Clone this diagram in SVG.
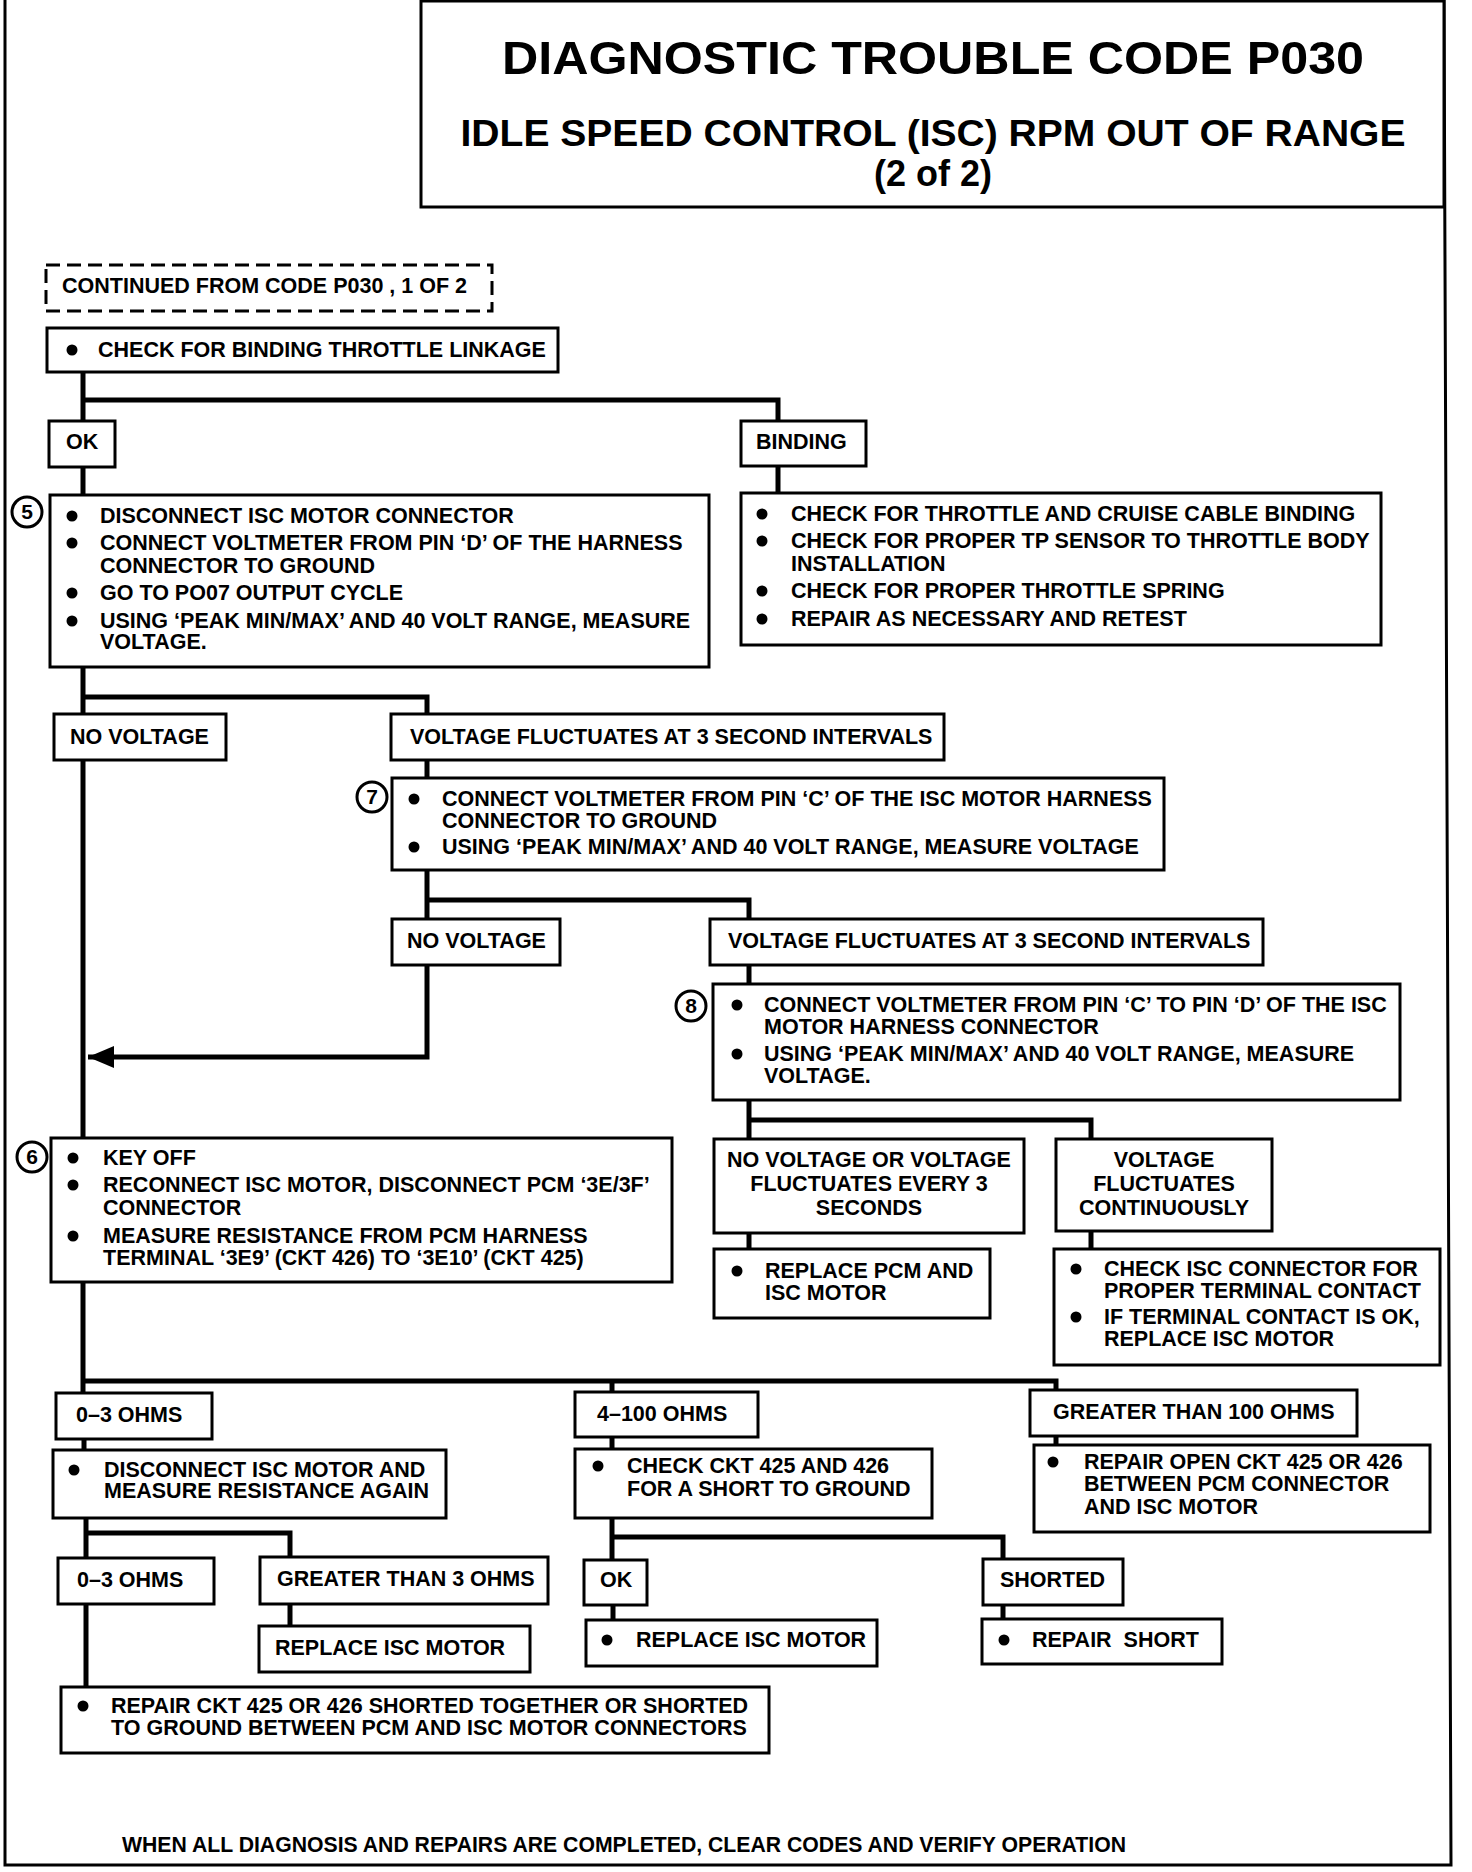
<svg xmlns="http://www.w3.org/2000/svg" width="1472" height="1872" viewBox="0 0 1472 1872">
<defs>
<style>
.b{fill:#fff;stroke:#000;stroke-width:3}
.d{fill:#fff;stroke:#000;stroke-width:3;stroke-dasharray:14 7}
.c{fill:none;stroke:#000;stroke-width:5}
.f{fill:none;stroke:#000;stroke-width:3}
text{font-family:"Liberation Sans",Arial,sans-serif;font-size:21.5px;font-weight:bold;fill:#000;white-space:pre}
.tt{text-anchor:middle}
.m{text-anchor:middle}
.n{text-anchor:middle;font-size:21px}
.dot{fill:#000}
.ring{fill:#fff;stroke:#000;stroke-width:3}
</style>
<marker id="ah" markerUnits="userSpaceOnUse" markerWidth="30" markerHeight="24" refX="26" refY="11" orient="auto">
<path d="M0,0 L26,11 L0,22 Z" fill="#000"/>
</marker>
</defs>
<rect width="1472" height="1872" fill="#fff"/>

<g id="frame">
<path class="f" d="M5,0 V1865 H1451 L1444,0"/>
</g>

<g id="title">
<rect class="b" x="421" y="1" width="1023" height="206" stroke-width="4"/>
<text class="tt" x="933" y="74" textLength="862" lengthAdjust="spacingAndGlyphs" style="font-size:46px">DIAGNOSTIC TROUBLE CODE P030</text>
<text class="tt" x="933" y="146" textLength="945" lengthAdjust="spacingAndGlyphs" style="font-size:36px">IDLE SPEED CONTROL (ISC) RPM OUT OF RANGE</text>
<text class="tt" x="933" y="186" style="font-size:36px">(2 of 2)</text>
</g>

<g id="connectors">
<path class="c" d="M83,372 V421 M83,467 V495 M83,667 V714 M83,760 V1138 M83,1282 V1393 M84,1439 V1450 M86,1518 V1558 M86,1604 V1687"/>
<path class="c" d="M83,400 H778 V421 M778,466 V493"/>
<path class="c" d="M83,697 H427 V714 M427,760 V778 M427,870 V919 M427,900 H749 V919 M749,965 V984"/>
<path class="c" d="M427,965 V1057 H88" marker-end="url(#ah)"/>
<path class="c" d="M749,1100 V1139 M749,1120 H1091 V1139 M749,1233 V1249 M1091,1231 V1249"/>
<path class="c" d="M83,1381 H1056 V1390 M612,1381 V1392 M612,1437 V1449 M1056,1436 V1445"/>
<path class="c" d="M86,1533 H290 V1557 M290,1604 V1626"/>
<path class="c" d="M612,1518 V1560 M612,1537 H1003 V1559 M613,1605 V1620 M1003,1605 V1619"/>
</g>

<g id="n-continued">
<rect class="d" x="46" y="265" width="446" height="46"/>
<text x="62" y="293">CONTINUED FROM CODE P030 , 1 OF 2</text>
</g>

<g id="n-check-binding">
<rect class="b" x="47" y="328" width="511" height="44"/>
<circle class="dot" cx="72" cy="350" r="5.5"/>
<text x="98" y="357">CHECK FOR BINDING THROTTLE LINKAGE</text>
</g>

<g id="n-ok1">
<rect class="b" x="49" y="421" width="66" height="46"/>
<text x="66" y="449">OK</text>
</g>

<g id="n-binding">
<rect class="b" x="741" y="421" width="125" height="45"/>
<text x="756" y="449">BINDING</text>
</g>

<g id="n-step5">
<rect class="b" x="50" y="495" width="659" height="172"/>
<circle class="ring" cx="27" cy="512" r="15"/>
<text class="n" x="27" y="519">5</text>
<circle class="dot" cx="72" cy="516" r="5.5"/>
<circle class="dot" cx="72" cy="543" r="5.5"/>
<circle class="dot" cx="72" cy="593" r="5.5"/>
<circle class="dot" cx="72" cy="621" r="5.5"/>
<text x="100" y="523">DISCONNECT ISC MOTOR CONNECTOR</text>
<text x="100" y="550">CONNECT VOLTMETER FROM PIN ‘D’ OF THE HARNESS</text>
<text x="100" y="573">CONNECTOR TO GROUND</text>
<text x="100" y="600">GO TO PO07 OUTPUT CYCLE</text>
<text x="100" y="628">USING ‘PEAK MIN/MAX’ AND 40 VOLT RANGE, MEASURE</text>
<text x="100" y="649">VOLTAGE.</text>
</g>

<g id="n-binding-checks">
<rect class="b" x="741" y="493" width="640" height="152"/>
<circle class="dot" cx="762" cy="514" r="5.5"/>
<circle class="dot" cx="762" cy="541" r="5.5"/>
<circle class="dot" cx="762" cy="591" r="5.5"/>
<circle class="dot" cx="762" cy="619" r="5.5"/>
<text x="791" y="521">CHECK FOR THROTTLE AND CRUISE CABLE BINDING</text>
<text x="791" y="548">CHECK FOR PROPER TP SENSOR TO THROTTLE BODY</text>
<text x="791" y="571">INSTALLATION</text>
<text x="791" y="598">CHECK FOR PROPER THROTTLE SPRING</text>
<text x="791" y="626">REPAIR AS NECESSARY AND RETEST</text>
</g>

<g id="n-novolt1">
<rect class="b" x="54" y="714" width="172" height="46"/>
<text x="70" y="744">NO VOLTAGE</text>
</g>

<g id="n-fluct1">
<rect class="b" x="391" y="714" width="553" height="46"/>
<text x="410" y="744">VOLTAGE FLUCTUATES AT 3 SECOND INTERVALS</text>
</g>

<g id="n-step7">
<rect class="b" x="392" y="778" width="772" height="92"/>
<circle class="ring" cx="372" cy="797" r="15"/>
<text class="n" x="372" y="804">7</text>
<circle class="dot" cx="414" cy="799" r="5.5"/>
<circle class="dot" cx="414" cy="847" r="5.5"/>
<text x="442" y="806">CONNECT VOLTMETER FROM PIN ‘C’ OF THE ISC MOTOR HARNESS</text>
<text x="442" y="828">CONNECTOR TO GROUND</text>
<text x="442" y="854">USING ‘PEAK MIN/MAX’ AND 40 VOLT RANGE, MEASURE VOLTAGE</text>
</g>

<g id="n-novolt2">
<rect class="b" x="392" y="919" width="168" height="46"/>
<text x="407" y="948">NO VOLTAGE</text>
</g>

<g id="n-fluct2">
<rect class="b" x="710" y="919" width="553" height="46"/>
<text x="728" y="948">VOLTAGE FLUCTUATES AT 3 SECOND INTERVALS</text>
</g>

<g id="n-step8">
<rect class="b" x="713" y="984" width="687" height="116"/>
<circle class="ring" cx="691" cy="1006" r="15"/>
<text class="n" x="691" y="1013">8</text>
<circle class="dot" cx="737" cy="1005" r="5.5"/>
<circle class="dot" cx="737" cy="1054" r="5.5"/>
<text x="764" y="1012">CONNECT VOLTMETER FROM PIN ‘C’ TO PIN ‘D’ OF THE ISC</text>
<text x="764" y="1034">MOTOR HARNESS CONNECTOR</text>
<text x="764" y="1061">USING ‘PEAK MIN/MAX’ AND 40 VOLT RANGE, MEASURE</text>
<text x="764" y="1083">VOLTAGE.</text>
</g>

<g id="n-step6">
<rect class="b" x="51" y="1138" width="621" height="144"/>
<circle class="ring" cx="32" cy="1157" r="15"/>
<text class="n" x="32" y="1164">6</text>
<circle class="dot" cx="73" cy="1158" r="5.5"/>
<circle class="dot" cx="73" cy="1185" r="5.5"/>
<circle class="dot" cx="73" cy="1236" r="5.5"/>
<text x="103" y="1165">KEY OFF</text>
<text x="103" y="1192">RECONNECT ISC MOTOR, DISCONNECT PCM ‘3E/3F’</text>
<text x="103" y="1215">CONNECTOR</text>
<text x="103" y="1243">MEASURE RESISTANCE FROM PCM HARNESS</text>
<text x="103" y="1265">TERMINAL ‘3E9’ (CKT 426) TO ‘3E10’ (CKT 425)</text>
</g>

<g id="n-novolt-or">
<rect class="b" x="714" y="1139" width="310" height="94"/>
<text class="m" x="869" y="1167">NO VOLTAGE OR VOLTAGE</text>
<text class="m" x="869" y="1191">FLUCTUATES EVERY 3</text>
<text class="m" x="869" y="1215">SECONDS</text>
</g>

<g id="n-fluct-cont">
<rect class="b" x="1056" y="1139" width="216" height="92"/>
<text class="m" x="1164" y="1167">VOLTAGE</text>
<text class="m" x="1164" y="1191">FLUCTUATES</text>
<text class="m" x="1164" y="1215">CONTINUOUSLY</text>
</g>

<g id="n-replace-pcm">
<rect class="b" x="714" y="1249" width="276" height="69"/>
<circle class="dot" cx="737" cy="1271" r="5.5"/>
<text x="765" y="1278">REPLACE PCM AND</text>
<text x="765" y="1300">ISC MOTOR</text>
</g>

<g id="n-check-isc">
<rect class="b" x="1054" y="1249" width="386" height="116"/>
<circle class="dot" cx="1076" cy="1269" r="5.5"/>
<circle class="dot" cx="1076" cy="1317" r="5.5"/>
<text x="1104" y="1276">CHECK ISC CONNECTOR FOR</text>
<text x="1104" y="1298">PROPER TERMINAL CONTACT</text>
<text x="1104" y="1324">IF TERMINAL CONTACT IS OK,</text>
<text x="1104" y="1346">REPLACE ISC MOTOR</text>
</g>

<g id="n-0-3a">
<rect class="b" x="56" y="1393" width="156" height="46"/>
<text x="76" y="1422">0–3 OHMS</text>
</g>

<g id="n-4-100">
<rect class="b" x="575" y="1392" width="183" height="45"/>
<text x="597" y="1421">4–100 OHMS</text>
</g>

<g id="n-gt100">
<rect class="b" x="1030" y="1390" width="327" height="46"/>
<text x="1053" y="1419">GREATER THAN 100 OHMS</text>
</g>

<g id="n-disconnect-isc">
<rect class="b" x="53" y="1450" width="393" height="68"/>
<circle class="dot" cx="74" cy="1470" r="5.5"/>
<text x="104" y="1477">DISCONNECT ISC MOTOR AND</text>
<text x="104" y="1498">MEASURE RESISTANCE AGAIN</text>
</g>

<g id="n-check-ckt">
<rect class="b" x="575" y="1449" width="357" height="69"/>
<circle class="dot" cx="598" cy="1466" r="5.5"/>
<text x="627" y="1473">CHECK CKT 425 AND 426</text>
<text x="627" y="1496">FOR A SHORT TO GROUND</text>
</g>

<g id="n-repair-open">
<rect class="b" x="1034" y="1445" width="396" height="87"/>
<circle class="dot" cx="1053" cy="1462" r="5.5"/>
<text x="1084" y="1469">REPAIR OPEN CKT 425 OR 426</text>
<text x="1084" y="1491">BETWEEN PCM CONNECTOR</text>
<text x="1084" y="1514">AND ISC MOTOR</text>
</g>

<g id="n-0-3b">
<rect class="b" x="58" y="1558" width="156" height="46"/>
<text x="77" y="1587">0–3 OHMS</text>
</g>

<g id="n-gt3">
<rect class="b" x="260" y="1557" width="288" height="47"/>
<text x="277" y="1586">GREATER THAN 3 OHMS</text>
</g>

<g id="n-ok2">
<rect class="b" x="584" y="1560" width="63" height="45"/>
<text x="600" y="1587">OK</text>
</g>

<g id="n-shorted">
<rect class="b" x="983" y="1559" width="140" height="46"/>
<text x="1000" y="1587">SHORTED</text>
</g>

<g id="n-replace-isc1">
<rect class="b" x="259" y="1626" width="271" height="46"/>
<text x="275" y="1655">REPLACE ISC MOTOR</text>
</g>

<g id="n-replace-isc2">
<rect class="b" x="586" y="1620" width="291" height="46"/>
<circle class="dot" cx="607" cy="1640" r="5.5"/>
<text x="636" y="1647">REPLACE ISC MOTOR</text>
</g>

<g id="n-repair-short">
<rect class="b" x="982" y="1619" width="240" height="45"/>
<circle class="dot" cx="1004" cy="1640" r="5.5"/>
<text x="1032" y="1647">REPAIR  SHORT</text>
</g>

<g id="n-repair-ckt">
<rect class="b" x="61" y="1687" width="708" height="66"/>
<circle class="dot" cx="83" cy="1706" r="5.5"/>
<text x="111" y="1713">REPAIR CKT 425 OR 426 SHORTED TOGETHER OR SHORTED</text>
<text x="111" y="1735">TO GROUND BETWEEN PCM AND ISC MOTOR CONNECTORS</text>
</g>

<g id="footer">
<text x="122" y="1852" textLength="1004" lengthAdjust="spacingAndGlyphs">WHEN ALL DIAGNOSIS AND REPAIRS ARE COMPLETED, CLEAR CODES AND VERIFY OPERATION</text>
</g>
</svg>
